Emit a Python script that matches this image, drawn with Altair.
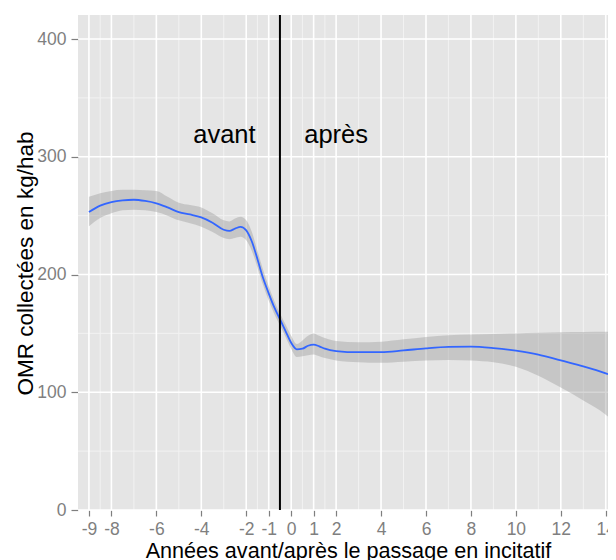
import altair as alt
import pandas as pd

# smoothed series (loess fit) and its confidence band
x_years = [-9, -8.5, -8, -7.5, -7, -6.5, -6, -5.5, -5, -4.5, -4, -3.5, -3, -2.75, -2.5, -2.25,
           -2, -1.75, -1.5, -1.25, -1, -0.75, -0.5, -0.25, 0, 0.25, 0.5, 0.75, 1, 1.25, 1.5,
           2, 3, 4, 5, 6, 7, 8, 9, 10, 11, 12, 13, 14, 14.1]
fit = [253, 258.5, 261.5, 263, 263.5, 262.5, 260.5, 257, 253, 251, 248.5, 244, 238, 237, 239, 240.5,
       237.5, 228, 213, 197, 184, 172, 162, 152, 142, 136.5, 137, 139.5, 140.5, 139, 137,
       135, 134, 134, 135.5, 137.3, 138.5, 138.7, 137.5, 135.3, 132, 127, 122, 116, 115.3]
lower = [241, 248, 252, 254.5, 255, 254.5, 253, 250, 246, 243.5, 240.5, 236, 231, 230, 231, 232,
         229, 220, 206, 191, 178, 166.5, 157, 147, 137, 130, 130.5, 131.5, 132, 130.5, 129,
         127, 125.5, 125, 126, 127, 127.5, 127, 125.5, 121.7, 114, 104, 93, 81, 79.5]
upper = [266, 269, 271, 272, 272, 271.5, 271, 266, 261, 259, 257, 252, 246, 245, 247.5, 249,
         246, 236, 220, 204, 190, 177.5, 167, 157.5, 148, 141, 144, 148, 150, 148, 146,
         143.5, 142.5, 143, 145, 147, 148.5, 149, 149.5, 150, 150.5, 151, 151.2, 151.4, 151.4]

x_breaks = [-9, -8, -6, -4, -2, -1, 0, 1, 2, 4, 6, 8, 10, 12, 14]
x_minor = [-8.5, -7, -5, -3, -1.5, -0.5, 0.5, 1.5, 3, 5, 7, 9, 11, 13]
y_breaks = [0, 100, 200, 300, 400]
y_minor = [50, 150, 250, 350]

vline_x = [-0.5]
note_text = ["avant", "après"]
note_x = [-2.97, 2.0]
note_y = [311.4, 311.4]

FONT = "Liberation Sans"

df = pd.DataFrame({"x": x_years, "fit": fit, "lo": lower, "hi": upper})
xs = alt.Scale(domain=[-9.487, 14.1], nice=False, zero=False)
ys = alt.Scale(domain=[0, 420.4], nice=False, zero=False)

XTITLE = "Années avant/après le passage en incitatif"
YTITLE = "OMR collectées en kg/hab"

xaxis = alt.Axis(values=x_breaks, grid=False, domain=False, tickColor="#7F7F7F", tickSize=6,
                 tickWidth=1.2, labelColor="#7F7F7F", labelFont=FONT, labelFontSize=17.5,
                 labelPadding=4.5, labelFlush=False, labelOverlap=False, labelBound=False,
                 labelExpr="'' + datum.value", title=XTITLE, titleFont=FONT, titleFontSize=21.6,
                 titleFontWeight="normal", titleColor="black", titleBaseline="alphabetic",
                 titleY=47, titleX=270)
yaxis = alt.Axis(values=y_breaks, grid=False, domain=False, tickColor="#7F7F7F", tickSize=7,
                 tickWidth=1.2, labelColor="#7F7F7F", labelFont=FONT, labelFontSize=17.5,
                 labelPadding=5, labelOverlap=False, labelBound=False,
                 labelExpr="'' + datum.value",
                 title=YTITLE, titleFont=FONT, titleFontSize=22.5, titleFontWeight="normal",
                 titleColor="black", titleBaseline="alphabetic", titleX=-46, titleY=248,
                 titleAngle=-90)


def X(field):
    return alt.X(field, type="quantitative", scale=xs, axis=xaxis)


def Y(field):
    return alt.Y(field, type="quantitative", scale=ys, axis=yaxis)


minor_v = alt.Chart(pd.DataFrame({"xm": x_minor})).mark_rule(color="#F2F2F2", strokeWidth=1).encode(x=X("xm"))
minor_h = alt.Chart(pd.DataFrame({"ym": y_minor})).mark_rule(color="#F2F2F2", strokeWidth=1).encode(y=Y("ym"))
major_v = alt.Chart(pd.DataFrame({"xb": x_breaks})).mark_rule(color="white", strokeWidth=1.6).encode(x=X("xb"))
major_h = alt.Chart(pd.DataFrame({"yb": y_breaks})).mark_rule(color="white", strokeWidth=1.6).encode(y=Y("yb"))

band = alt.Chart(df).mark_area(color="#999999", opacity=0.4, interpolate="monotone", clip=True).encode(
    x=X("x"), y=Y("lo"), y2="hi")
line = alt.Chart(df).mark_line(color="#3366FF", strokeWidth=1.8, interpolate="monotone", clip=True).encode(
    x=X("x"), y=Y("fit"))
vline = alt.Chart(pd.DataFrame({"xv": vline_x})).mark_rule(color="black", strokeWidth=2).encode(x=X("xv"))
notes = alt.Chart(pd.DataFrame({"t": note_text, "nx": note_x, "ny": note_y})).mark_text(
    font=FONT, fontSize=25.5, color="black", align="center", baseline="alphabetic").encode(
    x=X("nx"), y=Y("ny"), text="t:N")

chart = alt.layer(minor_v, minor_h, major_v, major_h, band, line, vline, notes).properties(
    width=530, height=495,
    background="white",
    autosize=alt.AutoSizeParams(type="none"),
    padding={"left": 70, "top": 7, "right": 0, "bottom": 50},
).configure_view(fill="#E5E5E5", strokeWidth=0)

chart.save("out.html", embed_options={"renderer": "svg", "actions": False})
